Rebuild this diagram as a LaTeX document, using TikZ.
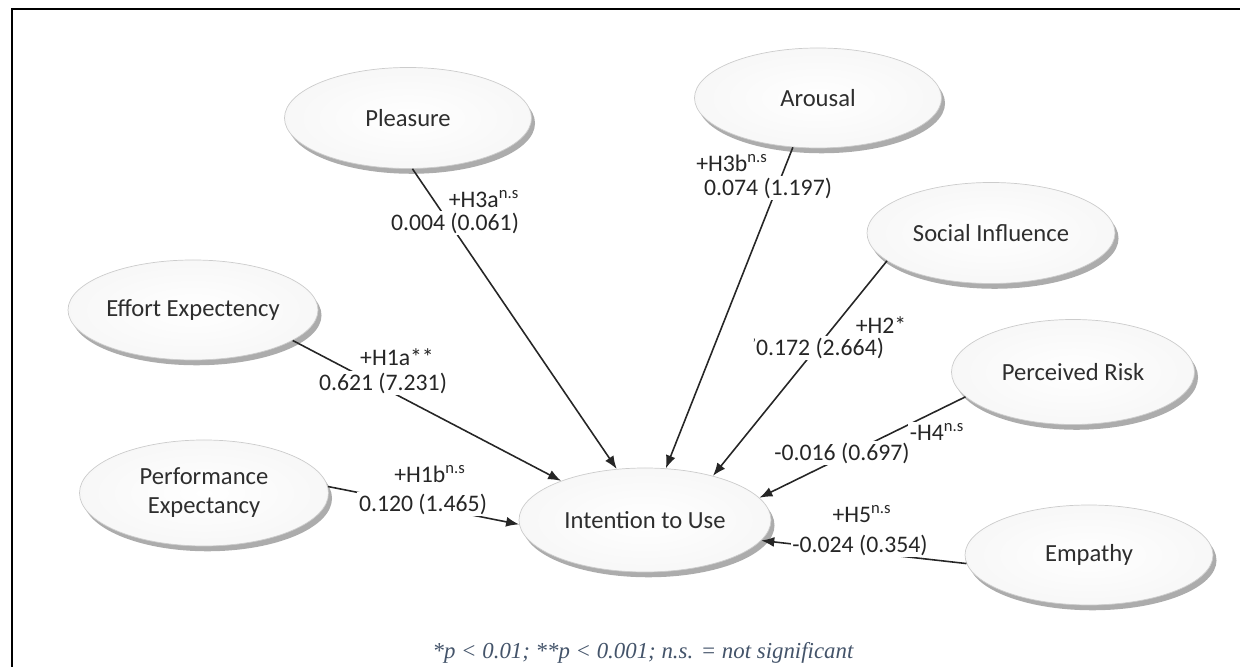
\documentclass[tikz,border=0pt]{standalone}
\usepackage{fontspec}
\setmainfont{Carlito}
\newfontfamily\notefont{Liberation Serif}
\usetikzlibrary{arrows.meta,shapes.geometric,shadows}
\definecolor{inkgray}{HTML}{2E2E2E}
\definecolor{notecol}{RGB}{68,84,106}

\begin{document}
\begin{tikzpicture}[
    construct/.style={ellipse, draw=gray!40, line width=0.4pt, inner sep=0pt,
      inner color=white, outer color=gray!6, text=inkgray, align=center,
      font=\fontsize{14}{16.5}\selectfont,
      drop shadow={shadow xshift=2pt, shadow yshift=-3pt, fill=gray!65, opacity=1}},
    effect/.style={-{Latex[length=2.6mm,width=2mm]}, line width=0.9pt, draw=black!85},
    coef/.style={fill=white, inner sep=1pt, text=black!85, font=\fontsize{13.5}{15}\selectfont}
  ]
    \useasboundingbox (0,0) rectangle (24.8,13.34);
    \draw[line width=1pt] (0.24,0) -- (0.24,13.16) -- (24.8,13.16);

    \node[construct,minimum width=4.94cm,minimum height=2.02cm] (pls) at (8.16,10.98) {Pleasure};
    \node[construct,minimum width=4.94cm,minimum height=2.0cm] (aro) at (16.36,11.38) {Arousal};
    \node[construct,minimum width=4.96cm,minimum height=2.02cm] (soc) at (19.82,8.68) {Social Influence};
    \node[construct,minimum width=4.86cm,minimum height=2.1cm] (per) at (21.46,5.90) {Perceived Risk};
    \node[construct,minimum width=5.0cm,minimum height=2.0cm] (eff) at (3.86,7.14) {Effort Expectency};
    \node[construct,minimum width=4.98cm,minimum height=2.12cm] (prf) at (4.08,3.48) {Performance\\Expectancy};
    \node[construct,minimum width=5.04cm,minimum height=2.08cm] (itu) at (12.90,2.94) {Intention to Use};
    \node[construct,minimum width=4.96cm,minimum height=2.0cm] (emp) at (21.78,2.24) {Empathy};

    \draw[effect] (pls.275) -- (itu.119);
    \draw[effect] (aro.243) -- (itu.68);
    \draw[effect] (soc.195) -- (itu.33);
    \draw[effect] (per.193) -- (itu.11);
    \draw[effect] (emp.184) -- (itu.350);
    \draw[effect] (eff.343) -- (itu.155);
    \draw[effect] (prf.3) -- (itu.182);

    \node[coef] (h3a) at (9.68,9.36) {+H3a\textsuperscript{n.s}};
    \node[coef] (v3a) at (9.10,8.88) {0.004 (0.061)};
    \node[coef] (h3b) at (14.64,10.08) {+H3b\textsuperscript{n.s}};
    \node[coef] (v3b) at (15.36,9.58) {0.074 (1.197)};
    \node[coef] (h2) at (17.62,6.84) {+H2*};
    \node[coef] (v2) at (16.40,6.38) {\llap{\raisebox{.7ex}{\scriptsize\textquoteright}}0.172 (2.664)};
    \node[coef] (h4) at (18.74,4.70) {-H4\textsuperscript{n.s}};
    \node[coef] (v4) at (16.84,4.28) {-0.016 (0.697)};
    \node[coef] (h5) at (17.24,3.06) {+H5\textsuperscript{n.s}};
    \node[coef] (v5) at (17.20,2.44) {-0.024 (0.354)};
    \node[coef] (h1a) at (7.94,6.20) {+H1a**};
    \node[coef] (v1a) at (7.66,5.68) {0.621 (7.231)};
    \node[coef] (h1b) at (8.60,3.86) {+H1b\textsuperscript{n.s}};
    \node[coef] (v1b) at (8.46,3.26) {0.120 (1.465)};

    \node[text=notecol, font=\notefont\itshape\fontsize{13}{15}\selectfont] (note) at (12.86,0.28)
      {*p < 0.01; **p < 0.001; n.s. = not significant};
\end{tikzpicture}
\end{document}
